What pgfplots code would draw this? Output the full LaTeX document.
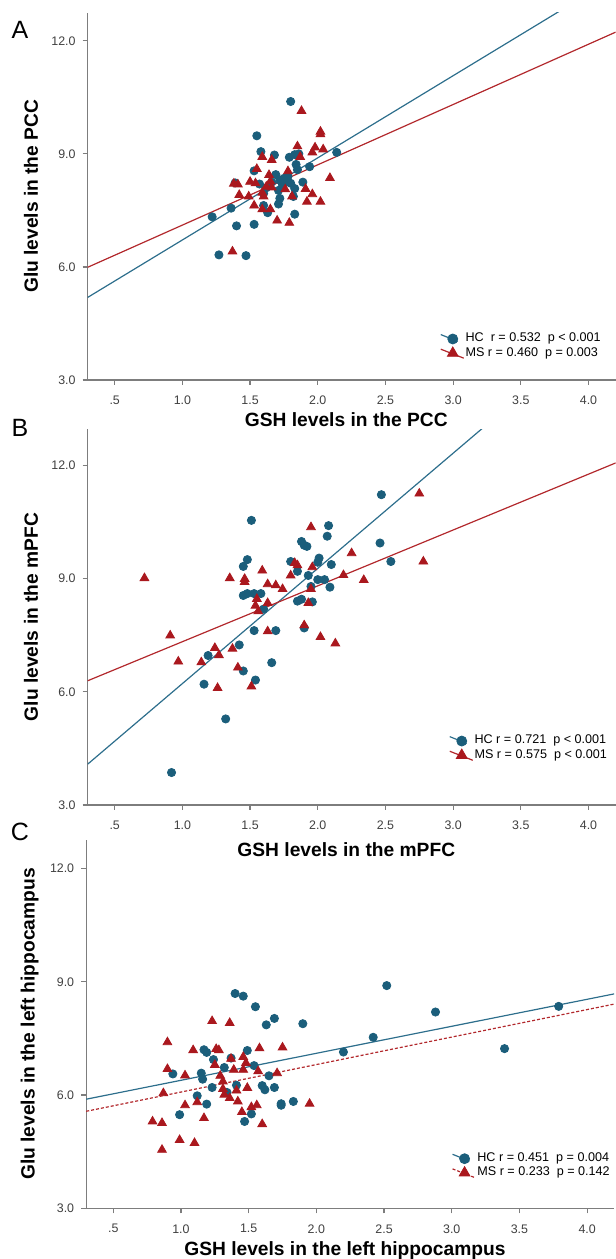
\documentclass[border=0pt]{standalone}
\usepackage{fontspec}
\setmainfont{Liberation Sans}
\usepackage{pgfplots}
\pgfplotsset{compat=1.18}

\definecolor{hcblue}{RGB}{27,94,123}
\definecolor{msred}{RGB}{170,24,30}
\definecolor{hcline}{RGB}{45,110,140}
\definecolor{msline}{RGB}{178,40,44}
\definecolor{axgray}{RGB}{125,125,125}

\pgfplotsset{
  panel/.style={
    scale only axis, width=264pt,
    xmin=0.3, xmax=4.2, ymin=3,
    axis x line=bottom, axis y line=left,
    axis line style={-, axgray, line width=0.7pt},
    tick align=outside, major tick length=2.5pt,
    tick style={axgray, line width=0.6pt},
    xtick={0.5,1,1.5,2,2.5,3,3.5,4},
    xticklabels={.5,1.0,1.5,2.0,2.5,3.0,3.5,4.0},
    ytick={3,6,9,12}, yticklabels={3.0,6.0,9.0,12.0},
    /pgf/number format/assume math mode=true,
    ticklabel style={font=\fontsize{6.2}{7}\selectfont, text=black!75},
    xticklabel style={yshift=-2pt},
    xlabel style={font=\fontsize{9.6}{11}\selectfont\bfseries, anchor=center},
    ylabel style={font=\fontsize{9.6}{11}\selectfont\bfseries, anchor=center,
                  at={(axis description cs:-0.107,0.5)}},
    legend style={draw=none, fill=none, inner sep=0pt, row sep=0pt,
                  font=\fontsize{6.3}{7}\selectfont,
                  nodes={inner sep=0.6pt}, cells={anchor=west}},
  },
  hcmarks/.style={only marks, mark=*, mark size=2.05pt,
    mark options={draw=hcblue, fill=hcblue},
    legend image code/.code={
      \draw[hcline, line width=0.6pt] (-6pt,2.2pt) -- (2.5pt,-1.2pt);
      \draw[##1, mark size=2.5pt] plot coordinates {(0pt,0pt)};}},
  msmarks/.style={only marks, mark=triangle*, mark size=2.5pt,
    mark options={draw=msred, fill=msred},
    legend image code/.code={
      \draw[msline, line width=0.6pt] (-6pt,2pt) -- (5.5pt,-2.5pt);
      \draw[##1, mark size=3.1pt] plot coordinates {(0pt,0pt)};}},
  msmarksdash/.style={only marks, mark=triangle*, mark size=2.5pt,
    mark options={draw=msred, fill=msred},
    legend image code/.code={
      \draw[msline, line width=0.6pt, dash pattern=on 1.5pt off 1pt] (-6pt,2pt) -- (5.5pt,-2.5pt);
      \draw[##1, mark size=3.1pt] plot coordinates {(0pt,0pt)};}},
}

\begin{document}
\begin{tikzpicture}
\useasboundingbox (0,0) rectangle (308pt,629.5pt);

%% ---------------- panel A ----------------
\begin{axis}[panel, at={(43.8pt,439.5pt)}, anchor=south west,
  height=183.7pt, ymax=12.75,
  xlabel={GSH levels in the PCC},
  xlabel style={at={(axis description cs:0.49,-0.109)}},
  ylabel={Glu levels in the PCC},
  legend style={at={(axis description cs:0.667,0.132)}, anchor=north west},
]
\addplot[hcmarks] coordinates {
 (1.80,10.39)(1.55,9.48)(1.58,9.06)(1.68,8.97)(1.79,8.91)(1.83,8.98)
 (1.86,9.00)(2.14,9.04)(1.94,8.66)(1.84,8.72)(1.85,8.58)(1.53,8.55)
 (1.69,8.45)(1.39,8.23)(1.57,8.20)(1.62,8.10)(1.72,8.30)(1.77,8.26)
 (1.74,8.18)(1.80,8.22)(1.89,8.25)(1.83,8.08)(1.71,8.03)(1.82,7.87)
 (1.72,7.82)(1.71,7.67)(1.60,7.63)(1.63,7.44)(1.36,7.56)(1.22,7.33)
 (1.83,7.40)(1.40,7.09)(1.53,7.13)(1.27,6.32)(1.47,6.30)(1.66,8.25)
 (1.78,8.40)(1.75,8.35)(1.60,7.95)
};
\addlegendentry{HC\ \ r = 0.532\ \ p < 0.001}
\addplot[msmarks] coordinates {
 (1.88,10.14)(2.02,9.59)(2.02,9.52)(1.85,9.20)(1.98,9.17)(2.04,9.12)
 (1.96,9.04)(1.59,8.92)(1.66,8.84)(1.87,8.92)(1.55,8.60)(1.78,8.54)
 (2.09,8.36)(1.38,8.21)(1.41,8.19)(1.50,8.26)(1.54,8.22)(1.64,8.44)
 (1.65,8.27)(1.62,8.13)(1.66,8.11)(1.76,8.06)(1.91,8.07)(1.42,7.91)
 (1.49,7.87)(1.59,7.97)(1.60,7.87)(1.81,7.87)(1.96,7.93)(1.92,7.73)
 (2.02,7.73)(1.53,7.63)(1.59,7.53)(1.65,7.53)(1.70,7.23)(1.79,7.17)
 (1.37,6.41)
};
\addlegendentry{MS r = 0.460\ \ p = 0.003}
\addplot[hcline, line width=0.6pt, forget plot] coordinates {(0.3,5.19)(4.2,13.69)};
\addplot[msline, line width=0.6pt, forget plot] coordinates {(0.3,5.99)(4.2,12.23)};
\end{axis}

%% ---------------- panel B ----------------
\begin{axis}[panel, at={(43.8pt,227pt)}, anchor=south west,
  height=188pt, ymax=12.96,
  xlabel={GSH levels in the mPFC},
  xlabel style={at={(axis description cs:0.49,-0.12)}},
  ylabel={Glu levels in the mPFC},
  legend style={at={(axis description cs:0.684,0.19)}, anchor=north west},
]
\addplot[hcmarks] coordinates {
 (2.47,11.22)(1.51,10.54)(2.08,10.40)(2.07,10.12)(2.46,9.94)(1.88,9.98)
 (1.90,9.88)(1.92,9.85)(1.48,9.50)(1.45,9.32)(1.80,9.45)(2.54,9.45)
 (2.01,9.54)(2.00,9.43)(2.10,9.37)(1.85,9.19)(1.93,9.08)(2.00,8.97)
 (2.05,8.97)(2.09,8.77)(1.95,8.79)(1.45,8.55)(1.48,8.60)(1.53,8.60)
 (1.58,8.60)(1.60,8.19)(1.85,8.40)(1.88,8.45)(1.96,8.38)(1.53,7.62)
 (1.69,7.62)(1.90,7.69)(1.42,7.24)(1.19,6.96)(1.66,6.77)(1.45,6.55)
 (1.16,6.20)(1.54,6.31)(1.32,5.28)(0.92,3.86)
};
\addlegendentry{HC r = 0.721\ \ p < 0.001}
\addplot[msmarks] coordinates {
 (2.75,11.25)(1.95,10.36)(2.25,9.67)(2.78,9.45)(1.59,9.21)(1.80,9.08)
 (1.85,9.35)(1.83,9.41)(1.96,9.30)(2.19,9.09)(0.72,9.01)(1.35,9.01)
 (1.46,8.99)(1.46,8.91)(2.34,8.96)(1.63,8.85)(1.69,8.82)(1.74,8.72)
 (1.95,8.72)(1.55,8.46)(1.63,8.35)(1.54,8.28)(1.56,8.13)(1.93,8.35)
 (1.63,7.60)(1.90,7.76)(2.02,7.45)(2.13,7.28)(0.91,7.49)(0.97,6.80)
 (1.14,6.78)(1.24,7.16)(1.27,6.97)(1.37,7.14)(1.41,6.64)(1.26,6.10)
 (1.51,6.14)
};
\addlegendentry{MS r = 0.575\ \ p < 0.001}
\addplot[hcline, line width=0.6pt, forget plot] coordinates {(0.3,4.08)(4.2,15.98)};
\addplot[msline, line width=0.6pt, forget plot] coordinates {(0.3,6.29)(4.2,12.06)};
\end{axis}

%% ---------------- panel C ----------------
\begin{axis}[panel, at={(43.1pt,25.35pt)}, anchor=south west,
  height=184.2pt, ymax=12.76,
  xlabel={GSH levels in the left hippocampus},
  xlabel style={at={(axis description cs:0.49,-0.114)}},
  ylabel={Glu levels in the left hippocampus},
  legend style={at={(axis description cs:0.692,0.155)}, anchor=north west},
]
\addplot[hcmarks] coordinates {
 (2.52,8.90)(1.40,8.69)(1.46,8.62)(1.55,8.34)(1.69,8.03)(1.63,7.86)
 (1.90,7.89)(2.88,8.20)(3.79,8.35)(2.42,7.53)(2.20,7.14)(3.39,7.23)
 (1.17,7.20)(1.19,7.13)(1.49,7.18)(1.37,6.98)(1.24,6.94)(1.32,6.73)
 (1.54,6.78)(0.94,6.56)(1.15,6.58)(1.16,6.42)(1.65,6.51)(1.23,6.20)
 (1.41,6.26)(1.60,6.25)(1.62,6.14)(1.69,6.20)(1.34,6.07)(1.12,5.98)
 (1.19,5.76)(1.74,5.77)(1.74,5.73)(1.83,5.83)(0.99,5.48)(1.52,5.50)
 (1.47,5.30)
};
\addlegendentry{HC r = 0.451\ \ p = 0.004}
\addplot[msmarksdash] coordinates {
 (1.23,7.96)(1.36,7.91)(0.90,7.40)(1.09,7.19)(1.26,7.22)(1.28,7.19)
 (1.58,7.24)(1.75,7.26)(1.37,6.96)(1.46,7.01)(1.48,6.85)(1.25,6.80)
 (0.90,6.69)(1.39,6.67)(1.46,6.67)(1.57,6.63)(1.71,6.58)(1.03,6.52)
 (1.29,6.51)(1.31,6.36)(1.49,6.19)(1.31,6.16)(1.41,6.12)(0.87,6.05)
 (1.32,6.01)(1.36,5.92)(1.42,5.83)(1.12,5.81)(1.03,5.73)(1.56,5.73)
 (1.52,5.68)(1.95,5.77)(1.45,5.55)(1.17,5.39)(0.79,5.30)(0.86,5.26)
 (1.60,5.23)(0.99,4.81)(1.10,4.73)(0.86,4.55)
};
\addlegendentry{MS r = 0.233\ \ p = 0.142}
\addplot[hcline, line width=0.6pt, forget plot] coordinates {(0.3,5.89)(4.2,8.68)};
\addplot[msline, line width=0.6pt, dash pattern=on 1.5pt off 1pt, forget plot]
  coordinates {(0.3,5.57)(4.2,8.41)};
\end{axis}

%% panel letters
\node[font=\fontsize{12.5}{14}\selectfont] at (10pt,614.5pt) {A};
\node[font=\fontsize{12.5}{14}\selectfont] at (10pt,415.5pt) {B};
\node[font=\fontsize{12.5}{14}\selectfont] at (10pt,213.5pt) {C};
\end{tikzpicture}
\end{document}
